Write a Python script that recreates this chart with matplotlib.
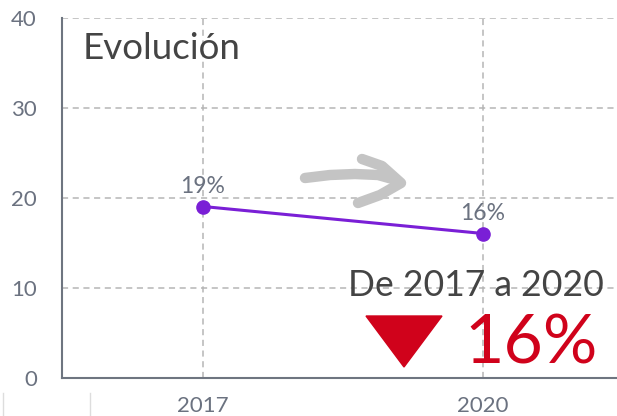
import matplotlib.pyplot as plt
from matplotlib.lines import Line2D
from matplotlib.patches import Polygon

plt.rcParams['font.family'] = ['Lato', 'DejaVu Sans']

years = [2017, 2020]
values = [19, 16]
point_labels = ['19%', '16%']
y_ticks = [0, 10, 20, 30, 40]

W, H = 617, 416
fig = plt.figure(figsize=(W / 100, H / 100), dpi=100)

# axes: left spine at x=62, top at y=17.5, bottom at y=377.5, runs past right edge
ax = fig.add_axes([62 / W, 1 - 377.5 / H, 1 - 62 / W, 360 / H])
ax.set_xlim(2015.489, 2021.436)
ax.set_ylim(0, 40)

gray_txt = '#6b7280'
ax.set_xticks(years)
ax.set_yticks(y_ticks)
ax.tick_params(axis='both', length=0, labelsize=16, labelcolor=gray_txt)
ax.tick_params(axis='y', pad=18)
ax.tick_params(axis='x', pad=13)
ax.grid(True, color='#b5b5b5', linestyle=(0, (4, 3)), linewidth=1.1)
ax.set_axisbelow(True)
for s in ['top', 'right']:
    ax.spines[s].set_visible(False)
for s in ['left', 'bottom']:
    ax.spines[s].set_color('#6e7580')
    ax.spines[s].set_linewidth(1.5)

ax.plot(years, values, color='#7a1fd6', linewidth=2.2, marker='o',
        markersize=9.5, zorder=3, clip_on=False)
for x, y, lab in zip(years, values, point_labels):
    ax.annotate(lab, (x, y), xytext=(0, 7), textcoords='offset points',
                ha='center', va='bottom', fontsize=16.5, color=gray_txt)

ax.text(0.038, 0.915, 'Evolución', transform=ax.transAxes, fontsize=26.5,
        color='#444444', ha='left', va='center')

# summary block
fig.text(604 / W, 1 - 286 / H, 'De 2017 a 2020', fontsize=25.6, color='#444444',
         ha='right', va='center')
red = '#d0021b'
fig.text(598 / W, 1 - 364 / H, '16%', fontsize=49, color=red,
         ha='right', va='baseline')
tri = [(366, 316), (442, 316), (404, 367)]
fig.add_artist(Polygon([(px / W, 1 - py / H) for px, py in tri], closed=True,
                       transform=fig.transFigure, color=red))

# hand-drawn style gray arrow
arrow_gray = '#c4c4c4'
shaft = [(305, 178), (330, 175), (355, 174), (378, 175), (396, 180)]
head = [(362, 159), (382, 166), (401, 183), (380, 195), (358, 203)]
fig.add_artist(Line2D([p[0] / W for p in shaft], [1 - p[1] / H for p in shaft],
                      color=arrow_gray, linewidth=7.5, solid_capstyle='round',
                      solid_joinstyle='round', transform=fig.transFigure))
fig.add_artist(Line2D([p[0] / W for p in head], [1 - p[1] / H for p in head],
                      color=arrow_gray, linewidth=7.5, solid_capstyle='round',
                      solid_joinstyle='round', transform=fig.transFigure))

# faint separators below the axis
for px in [2.5, 90]:
    fig.add_artist(Line2D([px / W, px / W], [0, 1 - 393 / H], color='#dddddd',
                          linewidth=1, transform=fig.transFigure))

fig.savefig('out.png', dpi=100)
